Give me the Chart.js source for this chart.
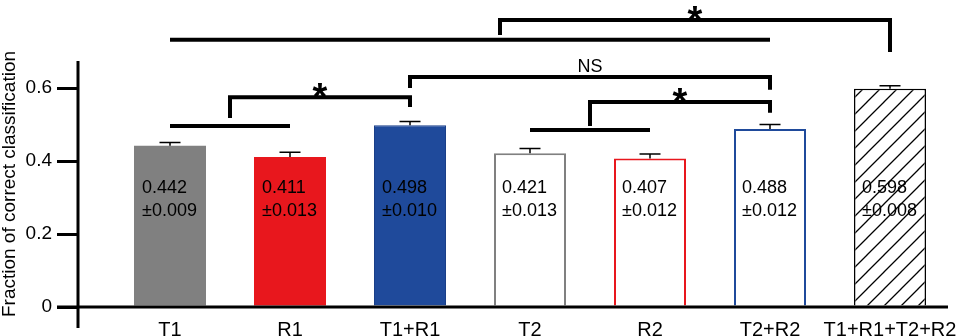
<!DOCTYPE html>
<html>
<head>
<meta charset="utf-8">
<script src="https://cdn.jsdelivr.net/npm/chart.js@4/dist/chart.umd.min.js"></script>
<style>
  body { margin: 0; background: #fff; }
  #wrap { width: 964px; height: 336px; }
</style>
</head>
<body>
<div id="wrap"><canvas id="chart"></canvas></div>
<script>
// --- data ---
const categories = ['T1', 'R1', 'T1+R1', 'T2', 'R2', 'T2+R2', 'T1+R1+T2+R2'];
const means = [0.442, 0.411, 0.498, 0.421, 0.407, 0.488, 0.598];
const errors = [0.009, 0.013, 0.010, 0.013, 0.012, 0.012, 0.008];
const yTicks = [0, 0.2, 0.4, 0.6];

// significance annotations: [fromIndex, toIndex, y value]
const groupLines = [[0, 1, 0.496], [3, 4, 0.485], [0, 5, 0.732]];
// brackets: [fromIndex, toIndex, y, left leg end, right leg end, label]
const brackets = [
  [0.5, 2, 0.575, 0.518, 0.548, '*'],
  [3.5, 5, 0.562, 0.496, 0.532, '*'],
  [2, 5, 0.630, 0.600, 0.595, 'NS'],
  [2.75, 6, 0.786, 0.745, 0.699, '*']
];

const FONT = '"Liberation Sans", Arial, sans-serif';

// hatch pattern for the last bar
function makeHatch() {
  const s = 17;
  const c = document.createElement('canvas');
  c.width = s; c.height = s;
  const g = c.getContext('2d');
  g.fillStyle = '#fff';
  g.fillRect(0, 0, s, s);
  g.strokeStyle = '#000';
  g.lineWidth = 1.3;
  g.beginPath();
  g.moveTo(-2, s + 2); g.lineTo(s + 2, -2);
  g.moveTo(-2, 2); g.lineTo(2, -2);
  g.moveTo(s - 2, s + 2); g.lineTo(s + 2, s - 2);
  g.stroke();
  return g.createPattern(c, 'repeat');
}

const fills = ['#808080', '#e8171d', '#1f4a9b', '#ffffff', '#ffffff', '#ffffff', makeHatch()];
const borders = ['#808080', '#e8171d', '#1a3f88', '#808080', '#e8171d', '#1f4a9b', '#000000'];
const borderW = [0, 0, 1, 2, 2, 2, 1.5];

// axis lines, error bars, value labels, brackets
const extras = {
  id: 'extras',
  afterDatasetsDraw(chart) {
    const ctx = chart.ctx;
    const xs = chart.scales.x, ys = chart.scales.y;
    const area = chart.chartArea;
    const bars = chart.getDatasetMeta(0).data;

    ctx.save();
    // error bars
    ctx.strokeStyle = '#000';
    ctx.lineWidth = 1.5;
    bars.forEach((b, i) => {
      const top = ys.getPixelForValue(means[i]);
      const y = ys.getPixelForValue(means[i] + errors[i]);
      ctx.beginPath();
      ctx.moveTo(b.x, top); ctx.lineTo(b.x, y);
      ctx.moveTo(b.x - 10.5, y); ctx.lineTo(b.x + 10.5, y);
      ctx.stroke();
    });

    // value labels inside bars
    ctx.fillStyle = '#000';
    ctx.font = '18px ' + FONT;
    ctx.textAlign = 'left';
    ctx.textBaseline = 'middle';
    bars.forEach((b, i) => {
      const lx = b.x - b.width / 2 + 8;
      const ly = ys.getPixelForValue(0.326);
      ctx.fillText(means[i].toFixed(3), lx, ly);
      ctx.fillText('±' + errors[i].toFixed(3), lx, ly + 23);
    });

    // axis lines
    ctx.lineWidth = 3;
    ctx.beginPath();
    const y0 = ys.getPixelForValue(0);
    ctx.moveTo(area.left - 21, y0); ctx.lineTo(area.right - 2, y0);
    ctx.moveTo(area.left, area.top); ctx.lineTo(area.left, y0 + 21);
    ctx.stroke();

    // significance lines
    ctx.lineWidth = 4;
    ctx.lineCap = 'butt';
    ctx.lineJoin = 'miter';
    groupLines.forEach(([a, b, v]) => {
      const y = ys.getPixelForValue(v);
      ctx.beginPath();
      ctx.moveTo(xs.getPixelForValue(a), y);
      ctx.lineTo(xs.getPixelForValue(b), y);
      ctx.stroke();
    });
    brackets.forEach(([a, b, v, la, lb, label]) => {
      const xa = xs.getPixelForValue(a), xb = xs.getPixelForValue(b);
      const y = ys.getPixelForValue(v);
      ctx.beginPath();
      ctx.moveTo(xa, ys.getPixelForValue(la));
      ctx.lineTo(xa, y);
      ctx.lineTo(xb, y);
      ctx.lineTo(xb, ys.getPixelForValue(lb));
      ctx.stroke();
      const mx = (xa + xb) / 2;
      ctx.textAlign = 'center';
      if (label === '*') {
        ctx.font = 'bold 38px ' + FONT;
        ctx.textBaseline = 'alphabetic';
        ctx.fillText(label, mx, y + 13);
      } else {
        ctx.font = '18px ' + FONT;
        ctx.textBaseline = 'middle';
        ctx.fillText(label, mx, y - 10);
      }
    });
    ctx.restore();
  }
};

new Chart(document.getElementById('chart'), {
  type: 'bar',
  data: {
    datasets: [{
      data: means.map((v, i) => ({ x: i, y: v })),
      backgroundColor: fills,
      borderColor: borders,
      borderWidth: borderW,
      barPercentage: 0.6,
      categoryPercentage: 1
    }]
  },
  options: {
    responsive: true,
    maintainAspectRatio: false,
    animation: false,
    layout: { padding: { top: 61, right: 14, left: 0, bottom: 0 } },
    plugins: { legend: { display: false }, tooltip: { enabled: false } },
    scales: {
      x: {
        type: 'linear',
        offset: false,
        min: -0.7667,
        max: 6.5,
        grid: { display: false, drawTicks: false, offset: false },
        border: { display: false },
        afterBuildTicks: (s) => { s.ticks = categories.map((_, i) => ({ value: i })); },
        afterFit: (s) => { s.height = 29; s.paddingLeft = 0; s.paddingRight = 0; },
        ticks: {
          autoSkip: false,
          maxRotation: 0,
          padding: 11,
          color: '#000',
          font: { family: FONT, size: 20 },
          callback: (v) => categories[v]
        }
      },
      y: {
        min: 0,
        max: 0.674,
        grid: { drawOnChartArea: false, tickLength: 21, lineWidth: 3, color: '#000' },
        border: { display: false },
        afterBuildTicks: (s) => { s.ticks = yTicks.map(v => ({ value: v })); },
        afterFit: (s) => { s.width = 78; },
        ticks: {
          padding: 5,
          color: '#000',
          font: { family: FONT, size: 19 },
          callback: (v) => v === 0 ? '0' : v.toFixed(1)
        },
        title: {
          display: true,
          text: 'Fraction of correct classification',
          color: '#000',
          padding: 0,
          font: { family: FONT, size: 19, lineHeight: 1 }
        }
      }
    }
  },
  plugins: [extras]
});
</script>
</body>
</html>
